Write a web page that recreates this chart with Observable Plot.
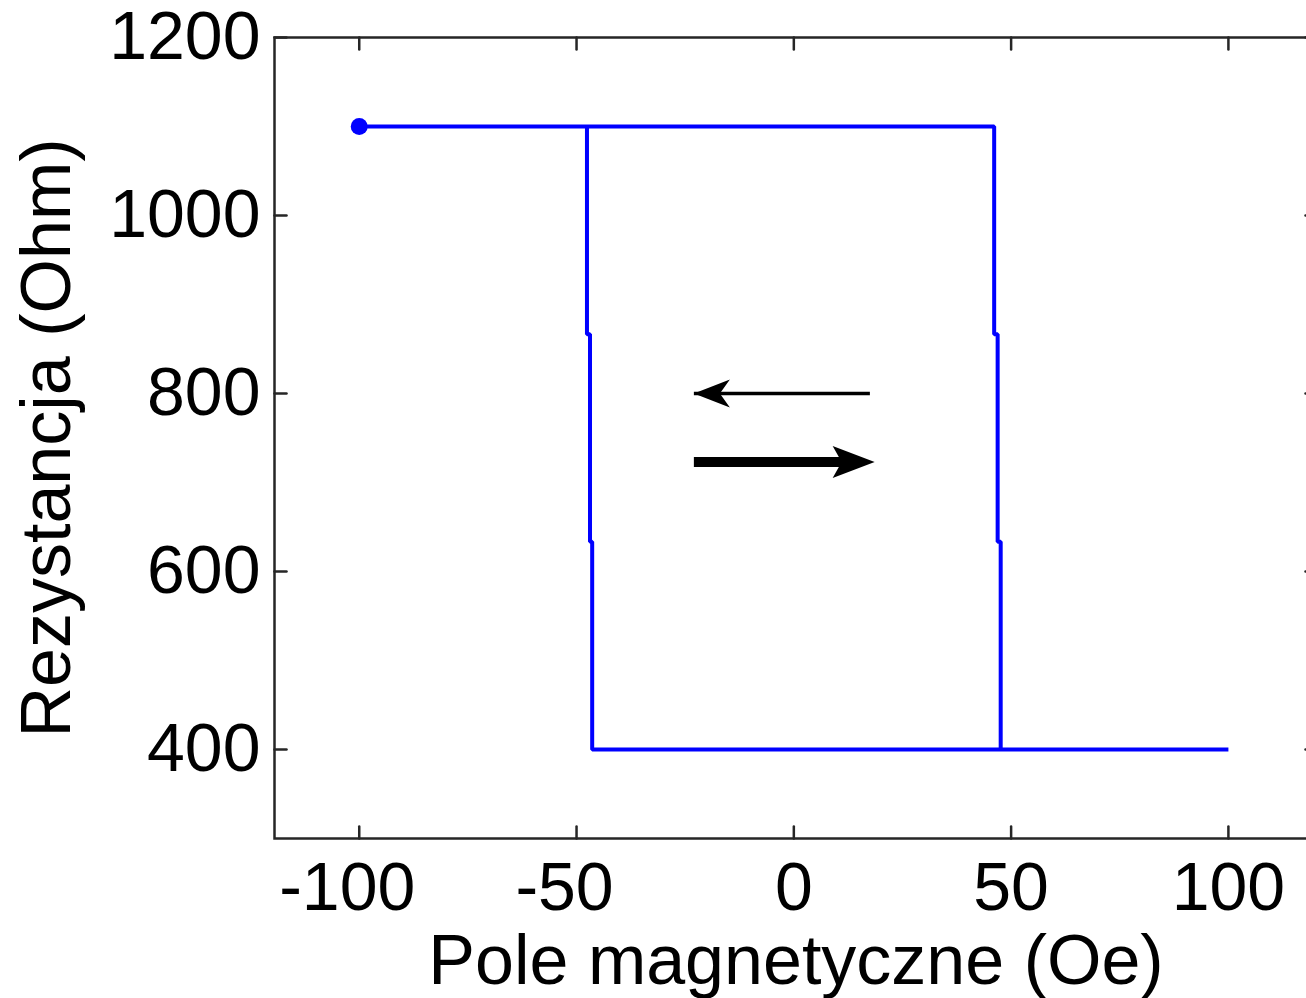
<!DOCTYPE html>
<html>
<head>
<meta charset="utf-8">
<script src="https://cdn.jsdelivr.net/npm/d3@7"></script>
<script src="https://cdn.jsdelivr.net/npm/@observablehq/plot@0.6"></script>
<style>
  html, body { margin: 0; padding: 0; background: #fff; overflow: hidden; }
  #chart { width: 1306px; height: 998px; overflow: hidden; }
  #chart svg { max-width: none !important; display: block; }
</style>
</head>
<body>
<div id="chart"></div>
<script>
// Hysteresis loop: sweep up from -100 Oe at high resistance, switch near +47 Oe,
// sweep back from +100 Oe at low resistance, switch near -47 Oe.
const fieldOe = [-100, 46.1, 46.1, 46.9, 46.9, 47.6, 47.6, 100,
                 -46.4, -46.4, -46.9, -46.9, -47.6, -47.6, -100];
const resistanceOhm = [1100, 1100, 866.7, 866.7, 633.3, 633.3, 400, 400,
                       400, 633.3, 633.3, 866.7, 866.7, 1100, 1100];

const xTicks = [-100, -50, 0, 50, 100];
const yTicks = [400, 600, 800, 1000, 1200];

// Sweep-direction arrows (field units / ohms)
const arrowStart = [17.5, -23.0];
const arrowEnd = [-23.0, 18.6];
const arrowLevel = [800, 723];

const xLabel = "Pole magnetyczne (Oe)";
const yLabel = "Rezystancja (Ohm)";

const loop = fieldOe.map((f, i) => ({field: f, resistance: resistanceOhm[i]}));
const arrows = arrowStart.map((x, i) => ({x1: x, x2: arrowEnd[i], y: arrowLevel[i]}));

// Filled, notched arrowhead whose tip sits on the anchor point (pointing right)
function arrowHead(length, halfWidth, notch) {
  return {
    draw(context) {
      context.moveTo(0, 0);
      context.lineTo(-length, -halfWidth);
      context.lineTo(-length + notch, 0);
      context.lineTo(-length, halfWidth);
      context.closePath();
    }
  };
}

// Inward tick mark drawn as a plain segment
const tickShape = {
  draw(context, l) {
    context.moveTo(0, 0);
    context.lineTo(0, -l);
  }
};

const font = "'Liberation Sans', Arial, Helvetica, sans-serif";
const axisColor = "#262626";
const tickLen = 12;
const tickFont = 68;

// x tick labels: digits centred on the tick, a leading minus sign hangs to the left
const xLabelMark = (ticks, dx) => Plot.text(ticks, {
  x: d => d, text: d => String(d), frameAnchor: "bottom", lineAnchor: "top",
  dy: 23, dx, fontSize: tickFont, fill: "#000"
});

const chart = Plot.plot({
  width: 1317,
  height: 998,
  marginLeft: 274,
  marginRight: 0,
  marginTop: 37,
  marginBottom: 160,
  style: {fontFamily: font, color: "#000", background: "#fff", maxWidth: "none"},
  x: {domain: [-119.5, 120.5], label: null, axis: null},
  y: {domain: [300, 1200], label: null},
  marks: [
    // inward ticks on all four sides
    Plot.vector(xTicks, {x: d => d, frameAnchor: "bottom", anchor: "start", length: tickLen, rotate: 0,
      shape: tickShape, stroke: axisColor, strokeWidth: 2.5}),
    Plot.vector(xTicks, {x: d => d, frameAnchor: "top", anchor: "start", length: tickLen, rotate: 180,
      shape: tickShape, stroke: axisColor, strokeWidth: 2.5}),
    Plot.vector(yTicks, {y: d => d, frameAnchor: "left", anchor: "start", length: tickLen, rotate: 90,
      shape: tickShape, stroke: axisColor, strokeWidth: 2.5}),
    Plot.vector(yTicks, {y: d => d, frameAnchor: "right", anchor: "start", length: tickLen, rotate: -90,
      shape: tickShape, stroke: axisColor, strokeWidth: 2.5}),

    xLabelMark(xTicks.filter(d => d < 0), -12),
    xLabelMark(xTicks.filter(d => d >= 0), 0),
    Plot.axisY({ticks: yTicks, tickSize: 0, tickPadding: 14, tickFormat: d => String(d),
      fontSize: tickFont, label: null}),

    Plot.frame({stroke: axisColor, strokeWidth: 2.5}),

    // resistance loop
    Plot.line(loop, {x: "field", y: "resistance", stroke: "#0000ff", strokeWidth: 4,
      strokeLinejoin: "miter"}),
    Plot.dot([loop[0]], {x: "field", y: "resistance", r: 8.5, fill: "#0000ff", stroke: "none"}),

    // direction arrows: thin one pointing left, thick one pointing right
    Plot.link([arrows[0]], {x1: "x1", x2: "x2", y1: "y", y2: "y", stroke: "#000", strokeWidth: 3.5}),
    Plot.dot([arrows[0]], {x: "x2", y: "y", symbol: arrowHead(36, 14, 10), rotate: 180,
      fill: "#000", stroke: "none"}),
    Plot.link([arrows[1]], {x1: "x1", x2: d => d.x2 - 4, y1: "y", y2: "y", stroke: "#000", strokeWidth: 10}),
    Plot.dot([arrows[1]], {x: "x2", y: "y", symbol: arrowHead(42, 16, 9), rotate: 0,
      fill: "#000", stroke: "none"}),

    // axis titles
    Plot.text([xLabel], {frameAnchor: "bottom", lineAnchor: "top", dy: 96, fontSize: 70, fill: "#000"}),
    Plot.text([yLabel], {frameAnchor: "left", textAnchor: "middle", lineAnchor: "top", rotate: -90,
      dx: -254, fontSize: 70, fill: "#000"})
  ]
});

document.getElementById("chart").appendChild(chart);
</script>
</body>
</html>
